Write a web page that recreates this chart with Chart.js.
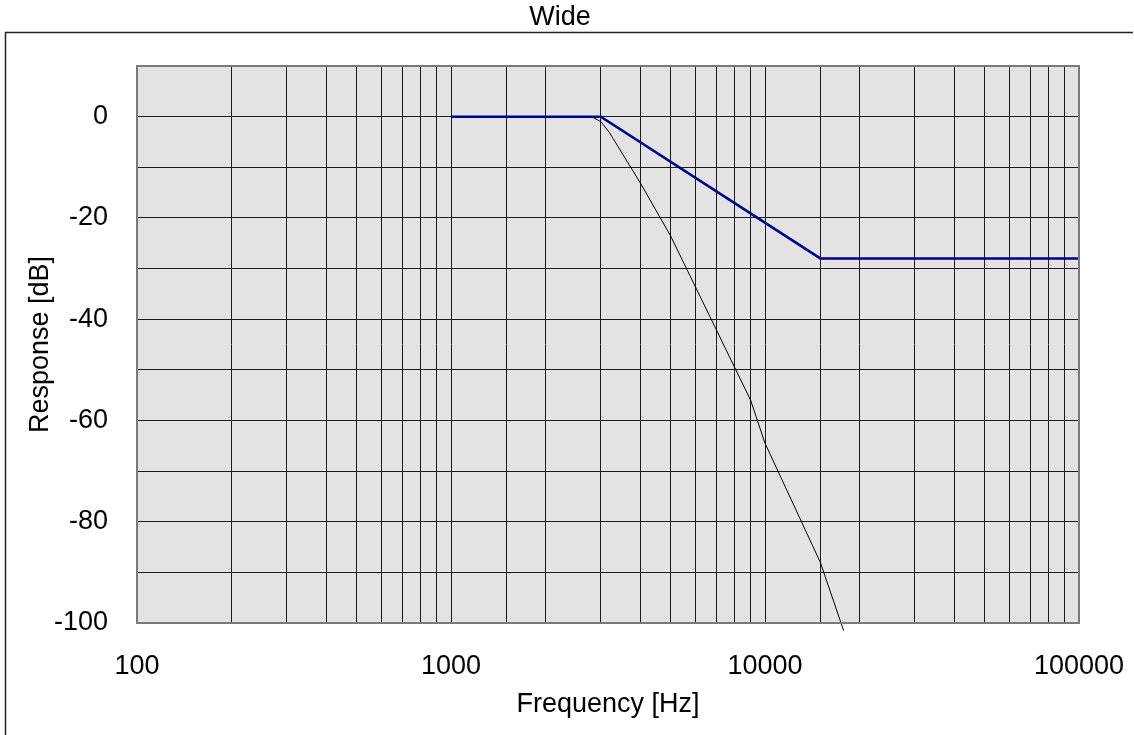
<!DOCTYPE html>
<html>
<head>
<meta charset="utf-8">
<style>
  html, body { margin: 0; padding: 0; background: #fff; }
  #wrap { width: 1134px; height: 735px; }
</style>
<script src="https://cdn.jsdelivr.net/npm/chart.js@4/dist/chart.umd.min.js"></script>
</head>
<body>
<div id="wrap"><canvas id="chart" width="1134" height="735"></canvas></div>
<script>
// measured response (black) and template mask (blue)
const responseFreq = [2800, 3000, 3200, 4000, 5000, 9000, 10000, 15000, 17800];
const responseDb   = [0, -1, -3.2, -13, -23.5, -56, -64.5, -88, -101.5];
const maskFreq = [1000, 3000, 15000, 100000];
const maskDb   = [0, 0, -28, -28];

const freqLabels = [100, 1000, 10000, 100000];
const dbLabels = [0, -20, -40, -60, -80, -100];

const FONT = '"Liberation Sans", Arial, sans-serif';

function pts(xs, ys) {
    return xs.map((x, i) => ({ x: x, y: ys[i] }));
}

const frame = {
    id: 'frame',
    beforeDraw(chart) {
        const c = chart.ctx, a = chart.chartArea;
        c.save();
        c.fillStyle = '#e3e3e3';
        c.fillRect(a.left, a.top, a.right - a.left, a.bottom - a.top);
        // outer box (only left and top edges are visible)
        c.strokeStyle = '#222';
        c.lineWidth = 1.5;
        c.beginPath();
        c.moveTo(5.5, 740);
        c.lineTo(5.5, 32.5);
        c.lineTo(1133, 32.5);
        c.stroke();
        c.restore();
    },
    afterDatasetsDraw(chart) {
        const c = chart.ctx, a = chart.chartArea;
        c.save();
        c.strokeStyle = '#7a7a7a';
        c.lineWidth = 2;
        c.strokeRect(a.left, a.top, a.right - a.left, a.bottom - a.top);
        c.restore();
    }
};

document.addEventListener('DOMContentLoaded', function () {
    const ctx = document.getElementById('chart').getContext('2d');
    new Chart(ctx, {
        type: 'scatter',
        data: {
            datasets: [{
                label: 'Response',
                data: pts(responseFreq, responseDb),
                showLine: true,
                borderColor: '#000',
                borderWidth: 1,
                pointRadius: 0,
                clip: false,
                order: 2
            }, {
                label: 'Mask',
                data: pts(maskFreq, maskDb),
                showLine: true,
                borderColor: '#00008b',
                borderWidth: 2.5,
                pointRadius: 0,
                order: 1
            }]
        },
        options: {
            responsive: false,
            animation: false,
            layout: { padding: { left: 41, right: 55, top: 0, bottom: 0 } },
            plugins: {
                legend: { display: false },
                tooltip: { enabled: false },
                title: {
                    display: true,
                    text: 'Wide',
                    color: '#000',
                    font: { family: FONT, size: 27, weight: 'normal' },
                    padding: { top: 1, bottom: 32.6 }
                }
            },
            scales: {
                x: {
                    type: 'logarithmic',
                    min: 100,
                    max: 100000,
                    grid: { color: '#1a1a1a', lineWidth: 1, drawTicks: false },
                    border: { display: false },
                    ticks: {
                        autoSkip: false,
                        maxRotation: 0,
                        padding: 27,
                        color: '#000',
                        font: { family: FONT, size: 27 },
                        callback: function (v) {
                            return freqLabels.includes(v) ? String(v) : '';
                        }
                    },
                    title: {
                        display: true,
                        text: 'Frequency [Hz]',
                        color: '#000',
                        font: { family: FONT, size: 27 },
                        padding: { top: 6, bottom: 14 }
                    },
                    afterFit: function (s) {
                        s.height = 735 - 623;
                        s.paddingLeft = 0;
                        s.paddingRight = 0;
                    }
                },
                y: {
                    min: -100,
                    max: 10,
                    grid: { color: '#1a1a1a', lineWidth: 1, drawTicks: false },
                    border: { display: false },
                    ticks: {
                        stepSize: 10,
                        padding: 29,
                        color: '#000',
                        font: { family: FONT, size: 27 },
                        callback: function (v) {
                            return dbLabels.includes(v) ? String(v) : '';
                        }
                    },
                    title: {
                        display: true,
                        text: 'Response [dB]',
                        color: '#000',
                        font: { family: FONT, size: 27 },
                        padding: { top: -16.7, bottom: 0 }
                    },
                    afterFit: function (s) {
                        s.width = 137 - 41;
                        s.paddingTop = 0;
                        s.paddingBottom = 0;
                    }
                }
            }
        },
        plugins: [frame]
    });
});
</script>
</body>
</html>
